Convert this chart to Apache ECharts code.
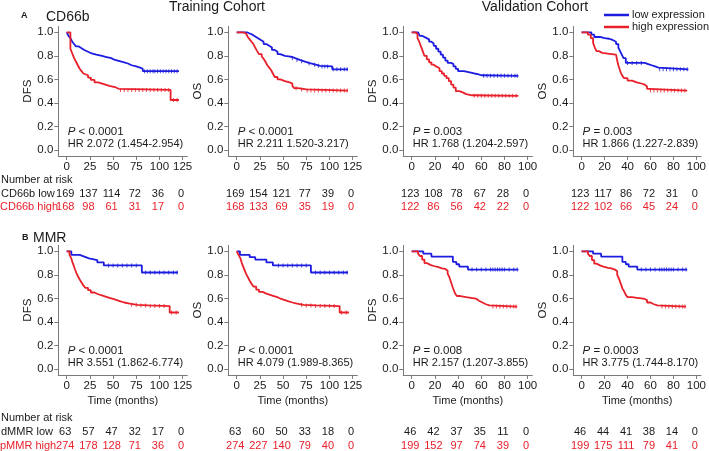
<!DOCTYPE html>
<html><head><meta charset="utf-8">
<script src="https://cdn.jsdelivr.net/npm/echarts@6/dist/echarts.min.js"></script>
<style>html,body{margin:0;padding:0;background:#fff}#c{width:709px;height:451px}</style>
</head><body><div id="c"></div>
<script>
const FONT = '"Liberation Sans", Arial, sans-serif';
const BLUE = '#1c1ce0', RED = '#e8202a', INK = '#1a1a1a', AXIS = '#7a7a7a';

// ---- tick labels ----
const trainTicks = [0, 25, 50, 75, 100, 125];
const valTicks = [0, 20, 40, 60, 80, 100];
const yTicks = [0, 0.2, 0.4, 0.6, 0.8, 1.0];

// ---- Kaplan-Meier curves: [month, survival] ----
const cd66bTrainDfsLow = [[0,1],[2,0.97],[4,0.95],[6,0.92],[8,0.9],[10,0.88],[13,0.865],[16,0.85],[19,0.835],[23,0.82],[27,0.81],[32,0.8],[38,0.79],[43,0.78],[48,0.765],[52,0.755],[57,0.745],[62,0.735],[66,0.72],[70,0.71],[75,0.7],[79,0.69],[82,0.67],[121,0.67]];
const cd66bTrainDfsHigh = [[0,1],[4,0.86],[6,0.82],[8,0.78],[10,0.75],[12,0.72],[14,0.69],[16,0.67],[18,0.65],[20,0.635],[23,0.615],[26,0.595],[30,0.575],[34,0.56],[40,0.545],[46,0.535],[52,0.52],[56,0.51],[112,0.425],[121,0.425]];
const cd66bTrainOsLow = [[0,1],[11,0.99],[14,0.98],[17,0.965],[20,0.95],[23,0.935],[26,0.92],[29,0.9],[32,0.885],[35,0.87],[38,0.85],[41,0.835],[44,0.815],[47,0.8],[52,0.795],[56,0.79],[60,0.78],[63,0.765],[68,0.755],[72,0.745],[76,0.735],[80,0.725],[85,0.715],[90,0.71],[103,0.685],[120,0.685]];
const cd66bTrainOsHigh = [[0,1],[7,0.99],[10,0.975],[12,0.96],[14,0.94],[16,0.92],[18,0.9],[20,0.87],[22,0.84],[24,0.815],[27,0.795],[29,0.775],[31,0.75],[33,0.72],[35,0.7],[37,0.68],[39,0.65],[41,0.62],[44,0.6],[47,0.585],[52,0.575],[57,0.565],[60,0.545],[62,0.525],[66,0.515],[75,0.505],[120,0.505]];
const cd66bValDfsLow = [[0,1],[5.5,0.985],[7,0.97],[9,0.955],[12,0.94],[15,0.92],[17,0.905],[19,0.885],[21,0.86],[23,0.835],[25,0.81],[27,0.785],[29,0.76],[31,0.74],[34,0.73],[36,0.71],[38,0.69],[40,0.67],[45,0.66],[50,0.65],[54,0.645],[57,0.635],[60,0.63],[92,0.63]];
const cd66bValDfsHigh = [[0,1],[3,0.985],[5,0.95],[6.5,0.92],[8,0.88],[9.5,0.84],[11,0.8],[13,0.77],[15,0.745],[17,0.725],[19,0.71],[21,0.695],[24,0.67],[26,0.65],[28,0.63],[30,0.61],[32,0.585],[34,0.555],[36,0.53],[38,0.5],[41,0.49],[44,0.475],[47,0.465],[52,0.46],[92,0.46]];
const cd66bValOsLow = [[0,1],[8.5,0.98],[11,0.96],[16,0.95],[20,0.945],[24,0.935],[27,0.92],[30,0.9],[32,0.87],[33.5,0.84],[35,0.81],[36.5,0.78],[38.5,0.74],[55,0.73],[58,0.72],[61,0.71],[64,0.7],[67,0.685],[93,0.685]];
const cd66bValOsHigh = [[0,1],[5.5,0.98],[8,0.95],[10,0.91],[11.5,0.87],[13,0.84],[15,0.825],[18,0.815],[26,0.81],[30,0.795],[31,0.76],[32,0.72],[33,0.69],[34,0.66],[35.5,0.63],[37,0.61],[40,0.59],[44,0.575],[48,0.565],[52,0.555],[55,0.54],[57,0.52],[59,0.505],[92,0.505]];
const mmrTrainDfsLow = [[0,1],[5,0.97],[14,0.955],[19,0.94],[24,0.925],[33,0.905],[40,0.88],[81,0.82],[120,0.82]];
const mmrTrainDfsHigh = [[0,1],[3,0.97],[5,0.94],[6,0.91],[7.5,0.88],[9,0.845],[10.5,0.815],[12,0.79],[14,0.76],[16,0.735],[18,0.71],[20,0.69],[23,0.67],[26,0.65],[30,0.635],[34,0.625],[38,0.615],[42,0.605],[46,0.595],[50,0.585],[54,0.575],[58,0.565],[62,0.555],[68,0.545],[76,0.54],[88,0.535],[111,0.48],[121,0.48]];
const mmrTrainOsLow = [[0,1],[3.5,0.97],[14,0.95],[20,0.93],[32,0.905],[39,0.88],[80,0.82],[120,0.82]];
const mmrTrainOsHigh = [[0,1],[2,0.97],[4,0.94],[5.5,0.9],[7,0.87],[8.5,0.84],[10,0.81],[12,0.78],[14,0.75],[16,0.725],[18,0.7],[21,0.675],[24,0.655],[28,0.64],[32,0.63],[36,0.62],[40,0.61],[44,0.595],[48,0.585],[52,0.575],[56,0.565],[60,0.555],[65,0.545],[72,0.54],[85,0.535],[111,0.48],[121,0.48]];
const mmrValDfsLow = [[0,1],[10,0.98],[17,0.955],[35.5,0.91],[38.5,0.89],[41,0.87],[48.5,0.845],[92,0.845]];
const mmrValDfsHigh = [[0,1],[5.5,0.98],[7,0.96],[9,0.93],[11,0.9],[13,0.885],[16,0.875],[19,0.865],[23,0.855],[26,0.85],[29,0.835],[31,0.81],[32.5,0.78],[33.5,0.75],[34.5,0.72],[35.5,0.69],[36.5,0.665],[37.5,0.64],[39,0.62],[42,0.61],[47,0.605],[51,0.6],[54,0.595],[56,0.58],[58,0.565],[61,0.55],[64,0.54],[67,0.53],[91,0.53]];
const mmrValOsLow = [[0,1],[10,0.98],[17,0.955],[35.5,0.91],[38.5,0.89],[41,0.87],[48.5,0.845],[92,0.845]];
const mmrValOsHigh = [[0,1],[5.5,0.98],[7,0.96],[9,0.925],[11,0.895],[13,0.88],[16,0.87],[19,0.86],[23,0.855],[26,0.845],[29,0.83],[31,0.8],[32.5,0.77],[33.5,0.74],[34.5,0.715],[35.5,0.685],[37,0.66],[38.5,0.63],[40,0.61],[44,0.605],[48,0.6],[52,0.595],[55,0.585],[57,0.565],[60,0.55],[63,0.54],[66,0.53],[91,0.53]];

// ---- censoring times (months) ----
const cenTrainDfsLow = [84,87,90,93,95,98,101,104,107,110,113,116,119];
const cenTrainDfsHigh = [58,62,66,70,74,78,82,86,90,94,98,102,106,110,115,119];
const cenTrainOsLow = [60,65,70,78,84,88,92,95,98,104,108,112,116,119];
const cenTrainOsHigh = [64,70,76,80,84,88,92,96,100,104,108,112,116,119];
const cenValDfsLow = [62,65,68,71,74,77,80,83,86,89,91];
const cenValDfsHigh = [54,57,60,63,66,69,72,75,78,81,84,87,90];
const cenValOsLow = [40,44,48,52,68,71,74,77,80,83,86,89,92];
const cenValOsHigh = [60,63,66,69,72,75,78,81,84,87,90];
const cenMmrTrainLow = [45,50,55,60,65,70,75,85,90,95,100,105,110,115,119];
const cenMmrTrainHigh = [70,75,80,85,90,95,100,105,113,118];
const cenMmrValLow = [52,56,60,64,68,70,72,74,76,78,80,84,88,91];
const cenMmrValHigh = [70,73,76,79,82,85,88,90];

// ---- number at risk ----
const riskCd66bTrainDfs = [[169,137,114,72,36,0],[168,98,61,31,17,0]];
const riskCd66bTrainOs = [[169,154,121,77,39,0],[168,133,69,35,19,0]];
const riskCd66bValDfs = [[123,108,78,67,28,0],[122,86,56,42,22,0]];
const riskCd66bValOs = [[123,117,86,72,31,0],[122,102,66,45,24,0]];
const riskMmrTrainDfs = [[63,57,47,32,17,0],[274,178,128,71,36,0]];
const riskMmrTrainOs = [[63,60,50,33,18,0],[274,227,140,79,40,0]];
const riskMmrValDfs = [[46,42,37,35,11,0],[199,152,97,74,39,0]];
const riskMmrValOs = [[46,44,41,38,14,0],[199,175,111,79,41,0]];

// ---- statistics text ----
const pTexts = ['< 0.0001','< 0.0001','= 0.003','= 0.003','< 0.0001','< 0.0001','= 0.008','= 0.0003'];
const hrTexts = ['HR 2.072 (1.454-2.954)','HR 2.211 1.520-3.217)','HR 1.768 (1.204-2.597)','HR 1.866 (1.227-2.839)',
                 'HR 3.551 (1.862-6.774)','HR 4.079 (1.989-8.365)','HR 2.157 (1.207-3.855)','HR 3.775 (1.744-8.170)'];
const rowLabels = [['CD66b low','CD66b high'],['dMMR low','pMMR high']];

const panels = [
  {low:cd66bTrainDfsLow, high:cd66bTrainDfsHigh, cl:cenTrainDfsLow, ch:cenTrainDfsHigh, risk:riskCd66bTrainDfs, y:'DFS'},
  {low:cd66bTrainOsLow, high:cd66bTrainOsHigh, cl:cenTrainOsLow, ch:cenTrainOsHigh, risk:riskCd66bTrainOs, y:'OS'},
  {low:cd66bValDfsLow, high:cd66bValDfsHigh, cl:cenValDfsLow, ch:cenValDfsHigh, risk:riskCd66bValDfs, y:'DFS'},
  {low:cd66bValOsLow, high:cd66bValOsHigh, cl:cenValOsLow, ch:cenValOsHigh, risk:riskCd66bValOs, y:'OS'},
  {low:mmrTrainDfsLow, high:mmrTrainDfsHigh, cl:cenMmrTrainLow, ch:cenMmrTrainHigh, risk:riskMmrTrainDfs, y:'DFS'},
  {low:mmrTrainOsLow, high:mmrTrainOsHigh, cl:cenMmrTrainLow, ch:cenMmrTrainHigh, risk:riskMmrTrainOs, y:'OS'},
  {low:mmrValDfsLow, high:mmrValDfsHigh, cl:cenMmrValLow, ch:cenMmrValHigh, risk:riskMmrValDfs, y:'DFS'},
  {low:mmrValOsLow, high:mmrValOsHigh, cl:cenMmrValLow, ch:cenMmrValHigh, risk:riskMmrValOs, y:'OS'}
];

// ---- layout ----
const colLeft = [58.3, 228.3, 403.3, 573.3];
const rowTop = [26.4, 245.4];
const GW = 129, GH = 129.5;

function surv(curve, t) {
  let v = curve[0][1];
  for (const [x, y] of curve) { if (x <= t) v = y; else break; }
  return v;
}

const chart = echarts.init(document.getElementById('c'));
const grids = [], xAxes = [], yAxes = [], series = [];
panels.forEach((p, i) => {
  const col = i % 4, row = Math.floor(i / 4), train = col < 2;
  const ticks = train ? trainTicks : valTicks;
  grids.push({left: colLeft[col], top: rowTop[row], width: GW, height: GH});
  xAxes.push({
    gridIndex: i, type: 'value', min: train ? -9.05 : -7.24, max: train ? 130 : 104,
    axisLine: {onZero: false, lineStyle: {color: AXIS, width: 1}},
    axisTick: {customValues: ticks, length: 4, lineStyle: {color: AXIS}},
    axisLabel: {customValues: ticks, fontSize: 11.5, color: INK, margin: 5, fontFamily: FONT},
    splitLine: {show: false},
    name: row === 1 ? 'Time (months)' : '', nameLocation: 'middle', nameGap: 21,
    nameTextStyle: {fontSize: 11, color: INK, fontFamily: FONT}
  });
  yAxes.push({
    gridIndex: i, type: 'value', min: -0.05, max: 1.05,
    axisLine: {show: true, onZero: false, lineStyle: {color: AXIS, width: 1}},
    axisTick: {show: true, customValues: yTicks, length: 4, lineStyle: {color: AXIS}},
    axisLabel: {customValues: yTicks, fontSize: 11.5, color: INK, margin: 5, fontFamily: FONT,
                formatter: v => Number(v).toFixed(1)},
    splitLine: {show: false},
    name: p.y, nameLocation: 'middle', nameGap: 24,
    nameTextStyle: {fontSize: 11.5, color: INK, fontFamily: FONT}
  });
  const mk = (name, curve, cen, color) => {
    series.push({type: 'line', name, xAxisIndex: i, yAxisIndex: i, step: 'end', symbol: 'none',
      data: curve, lineStyle: {color, width: 1.8}, itemStyle: {color}, animation: false});
    series.push({type: 'scatter', name: name + ' censored', xAxisIndex: i, yAxisIndex: i,
      symbol: 'rect', symbolSize: [1, 4], itemStyle: {color}, animation: false,
      data: cen.map(t => [t, surv(curve, t)])});
  };
  mk('low expression', p.low, p.cl, BLUE);
  mk('high expression', p.high, p.ch, RED);
});

chart.setOption({
  backgroundColor: '#fff',
  animation: false,
  grid: grids, xAxis: xAxes, yAxis: yAxes, series,
  legend: {data: ['low expression', 'high expression'], orient: 'vertical', left: 604, top: 9,
    padding: 0, itemGap: 0, itemWidth: 25, itemHeight: 2.5, icon: 'rect',
    textStyle: {fontSize: 11, color: INK, fontFamily: FONT, lineHeight: 12, padding: [0, 0, 0, -2]}}
});

// ---- texts: titles, stats, number at risk ----
const g = [];
const txt = (x, y, text, opts = {}) => g.push({type: 'text', x, y, silent: true,
  style: Object.assign({text, fontSize: 11, fill: INK, fontFamily: FONT, textAlign: 'left', textVerticalAlign: 'middle'}, opts)});

txt(217, 7, 'Training Cohort', {fontSize: 14, textAlign: 'center'});
txt(535, 7, 'Validation Cohort', {fontSize: 14, textAlign: 'center'});
txt(21, 16, 'A', {fontSize: 9, fontWeight: 'bold'});
txt(46, 17, 'CD66b', {fontSize: 14});
txt(22, 238, 'B', {fontSize: 9, fontWeight: 'bold'});
txt(33, 238, 'MMR', {fontSize: 14});

panels.forEach((p, i) => {
  const col = i % 4, row = Math.floor(i / 4), train = col < 2;
  const ticks = train ? trainTicks : valTicks;
  const x0 = chart.convertToPixel({xAxisIndex: i}, 0);
  const dy = row * 219;
  g.push({type: 'text', x: x0 + 1, y: 132 + dy, silent: true,
    style: {text: '{i|P} ' + pTexts[i], fontSize: 11.5, fill: INK, fontFamily: FONT, textVerticalAlign: 'middle',
      rich: {i: {fontStyle: 'italic', fontSize: 11.5, fontFamily: FONT, fill: INK}}}});
  txt(x0 + 1, 143.5 + dy, hrTexts[i]);
  const ry = row === 0 ? [193.5, 207] : [432, 446];
  ticks.forEach((t, k) => {
    const px = chart.convertToPixel({xAxisIndex: i}, t) - 1.5;
    txt(px, ry[0], String(p.risk[0][k]), {textAlign: 'center'});
    txt(px, ry[1], String(p.risk[1][k]), {textAlign: 'center', fill: RED});
  });
});
[0, 1].forEach(row => {
  const ry = row === 0 ? [180, 193.5, 207] : [418, 432, 446];
  txt(1, ry[0], 'Number at risk');
  txt(1, ry[1], rowLabels[row][0]);
  txt(0, ry[2], rowLabels[row][1], {fill: RED});
});
chart.setOption({graphic: g});
</script>
</body></html>
